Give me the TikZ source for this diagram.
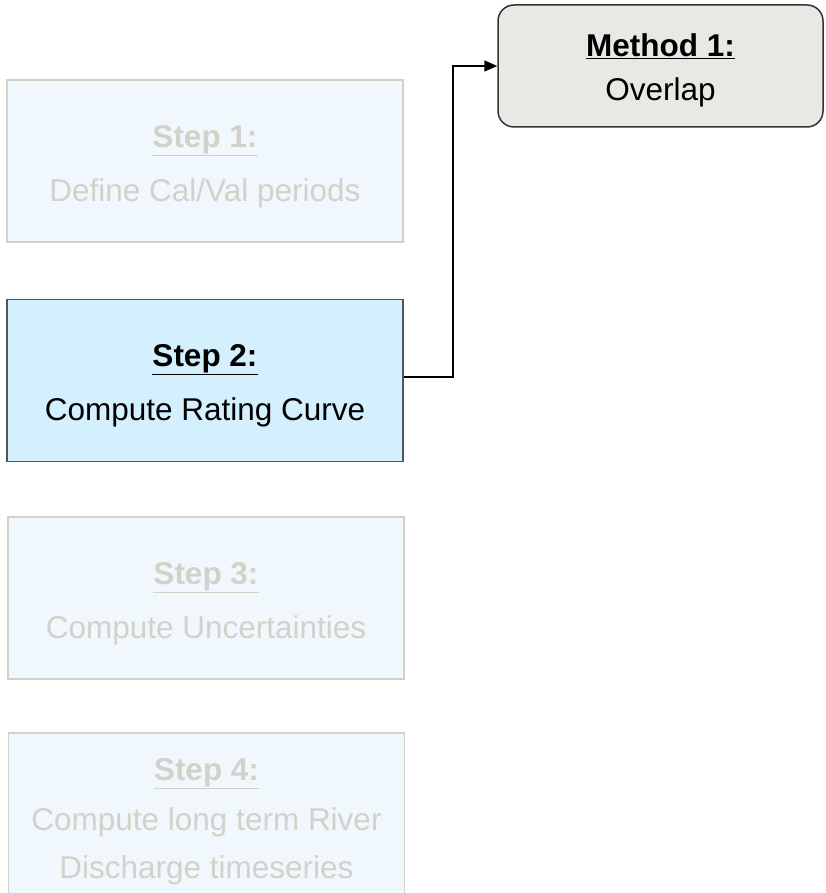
\documentclass[tikz,border=0pt]{standalone}
\usepackage{fontspec}
\setmainfont{Liberation Sans}
\usetikzlibrary{arrows.meta}
\definecolor{faintfill}{HTML}{F0F8FE}
\definecolor{faintdraw}{HTML}{D0D4C8}
\definecolor{fainttext}{HTML}{D2D2C8}
\definecolor{activefill}{HTML}{D4F0FE}
\definecolor{activedraw}{HTML}{555555}
\definecolor{methodfill}{HTML}{E8E8E4}
\definecolor{methoddraw}{HTML}{333333}
\newcommand{\lowerby}[1]{\rule{0pt}{\dimexpr 23pt+#1\relax}}
\tikzset{
  stepbox/.style={draw, line width=1.2pt, minimum width=396pt, minimum height=162pt,
    inner sep=0pt, align=center, font=\fontsize{31.5}{54}\selectfont},
  faintbox/.style={stepbox, draw=faintdraw, fill=faintfill, text=fainttext},
  activebox/.style={stepbox, draw=activedraw, fill=activefill, text=black},
  methodbox/.style={draw=methoddraw, fill=methodfill, line width=1.5pt, rounded corners=16pt,
    minimum width=325pt, minimum height=122pt, inner sep=0pt, align=center,
    font=\fontsize{31.5}{44}\selectfont},
  conn/.style={line width=1.5pt, -{Triangle[length=13pt,width=11pt]}}
}
\begin{document}
\begin{tikzpicture}[x=1pt,y=-1pt]
\useasboundingbox (0,0) rectangle (826,893);
\node[faintbox] (s1) at (205,161) {\lowerby{10pt}\underline{\textbf{Step 1:}}\\Define Cal/Val periods};
\node[activebox] (s2) at (205,380.5) {\lowerby{10pt}\underline{\textbf{Step 2:}}\\Compute Rating Curve};
\node[faintbox] (s3) at (206,598) {\lowerby{10pt}\underline{\textbf{Step 3:}}\\Compute Uncertainties};
\node[faintbox, minimum height=170pt] (s4) at (206.5,818) {\lowerby{6pt}\underline{\textbf{Step 4:}}\\[-4pt]Compute long term River\\[-6pt]Discharge timeseries};
\node[methodbox] (m1) at (660.5,66) {\lowerby{8pt}\underline{\textbf{Method 1:}}\\Overlap};
\coordinate (bend) at (453,0);
\draw[conn] (s2.east |- 0,377) -- (bend |- 0,377) -- (bend |- m1.west) -- (m1.west);
\end{tikzpicture}
\end{document}
